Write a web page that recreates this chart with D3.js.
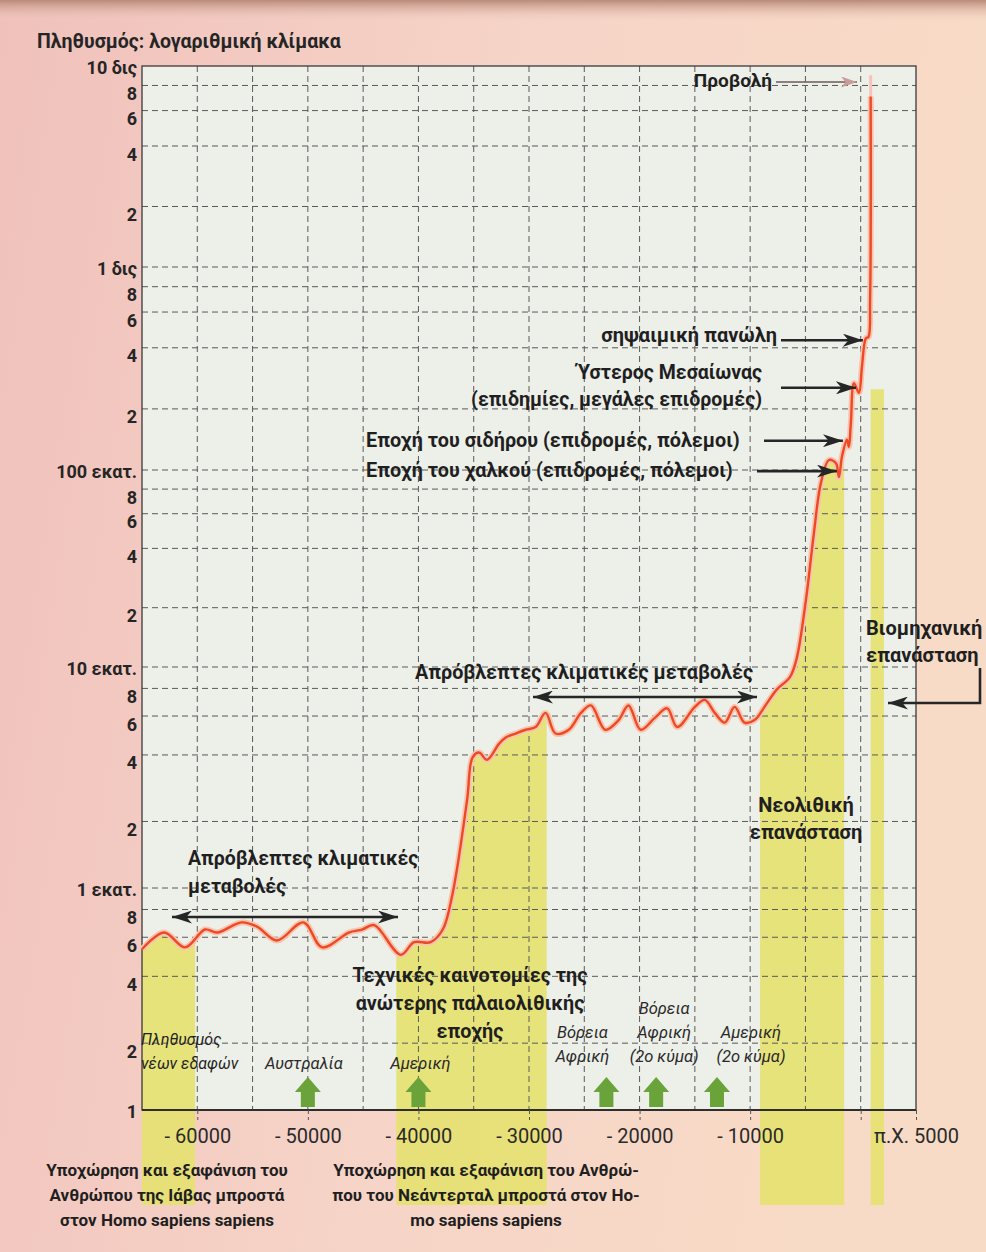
<!DOCTYPE html>
<html>
<head>
<meta charset="utf-8">
<script src="https://cdn.jsdelivr.net/npm/d3@7"></script>
<style>
  body { margin: 0; background: #f4cfc4; }
  svg { display: block; font-family: Roboto, "Noto Sans", sans-serif; }
</style>
</head>
<body>
<div class="chart"></div>
<script>
// population curve (years, millions of people)
var years = [-65000, -63000, -61100, -59300, -58200, -56000, -54600, -52800, -50400, -48700,
  -46300, -45100, -44000, -41600, -40400, -38900, -37800, -36900, -35600, -35100,
  -34500, -33800, -32700, -32100, -31200, -30300, -29400, -28500, -27600, -26400,
  -25300, -24400, -23100, -21900, -21000, -19900, -18600, -17500, -16600, -15000,
  -14100, -13200, -12300, -11400, -10500, -9600, -8700, -7600, -6400, -5800,
  -4950, -4230, -3600, -2870, -2240, -1970, -1700, -1250, -1070, -890,
  -610, -160, 110, 470, 700, 850, 900];
var population = [0.53, 0.63, 0.54, 0.65, 0.63, 0.70, 0.67, 0.58, 0.70, 0.54,
  0.63, 0.65, 0.68, 0.50, 0.57, 0.57, 0.65, 0.95, 2.5, 3.9,
  4.1, 3.8, 4.5, 4.8, 5.0, 5.2, 5.35, 6.2, 5.0, 5.2,
  6.2, 6.7, 5.2, 5.75, 6.7, 5.2, 5.9, 6.5, 5.35, 6.6,
  7.1, 6.2, 5.6, 6.6, 5.6, 5.75, 6.6, 7.9, 9.0, 11,
  22, 48, 86, 112, 108, 92, 116, 141, 130, 171,
  268, 240, 322, 446, 452, 700, 7050];
var projectionYears = [900, 900];
var projectionValues = [7050, 9000];

// yellow periods: [from, to]
var bandRanges = [[-65000, -60200], [-42000, -28400], [-9100, -1500]];
var industrialBand = [900, 2100];
var industrialBandTop = 250;

// migrations (green arrows)
var migrationYears = [-50000, -40000, -23000, -18500, -13000];
var migrationLabels = [["Αυστραλία"], ["Αμερική"], ["Βόρεια", "Αφρική"],
  ["Βόρεια", "Αφρική", "(2ο κύμα)"], ["Αμερική", "(2ο κύμα)"]];

// axes
var xTicks = [-60000, -50000, -40000, -30000, -20000, -10000, 0, 5000];
var xTickLabels = ["- 60000", "- 50000", "- 40000", "- 30000", "- 20000", "- 10000", "", "π.Χ. 5000"];
var yDecades = [0.1, 1, 10, 100, 1000, 10000];
var yDecadeLabels = ["1", "1 εκατ.", "10 εκατ.", "100 εκατ.", "1 δις", "10 δις"];
var yMinor = [2, 4, 6, 8];

var svgWidth = 986;
var svgHeight = 1252;
var plot = { left: 142, right: 916, top: 66, bottom: 1110 };

var svg = d3.select(".chart").append("svg")
  .attr("width", svgWidth)
  .attr("height", svgHeight);

var defs = svg.append("defs");
var pageGrad = defs.append("linearGradient").attr("id", "page").attr("x1", 0).attr("x2", 1).attr("y1", 0).attr("y2", 0.2);
pageGrad.append("stop").attr("offset", 0).attr("stop-color", "#f0c1bb");
pageGrad.append("stop").attr("offset", 0.5).attr("stop-color", "#f6d3c7");
pageGrad.append("stop").attr("offset", 1).attr("stop-color", "#f8dbc6");
var topGrad = defs.append("linearGradient").attr("id", "shade").attr("x1", 0).attr("x2", 0).attr("y1", 0).attr("y2", 1);
topGrad.append("stop").attr("offset", 0).attr("stop-color", "#b98a78");
topGrad.append("stop").attr("offset", 1).attr("stop-color", "#f3cfc4").attr("stop-opacity", 0);

function marker(id, color, w, h) {
  defs.append("marker")
    .attr("id", id)
    .attr("markerUnits", "userSpaceOnUse")
    .attr("markerWidth", w).attr("markerHeight", h)
    .attr("refX", w).attr("refY", h / 2)
    .attr("orient", "auto-start-reverse")
    .append("path")
    .attr("d", `M0,0 L${w},${h / 2} L0,${h} L${w * 0.28},${h / 2} Z`)
    .attr("fill", color);
}
marker("head", "#262626", 20, 13);
marker("headSoft", "#c99c9a", 16, 11);

svg.append("rect").attr("width", svgWidth).attr("height", svgHeight).attr("fill", "url(#page)");
svg.append("rect").attr("width", svgWidth).attr("height", 22).attr("fill", "url(#shade)");

var x = d3.scaleLinear().domain([-65000, 5000]).range([plot.left, plot.right]);
var y = d3.scaleLog().domain(yDecades).range([1110, 888, 667, 470, 267, plot.top]);

var series = years.map(function(yr, i) { return { year: yr, pop: population[i] }; });
var projection = projectionYears.map(function(yr, i) { return { year: yr, pop: projectionValues[i] }; });

// plot background
svg.append("rect")
  .attr("x", plot.left).attr("y", plot.top)
  .attr("width", plot.right - plot.left).attr("height", plot.bottom - plot.top)
  .attr("fill", "#edefe9");

// yellow bands: filled under the curve
var bandBottom = 1205;
defs.append("clipPath").attr("id", "underCurve")
  .append("path")
  .attr("d", d3.area()
    .x(d => x(d.year))
    .y0(bandBottom)
    .y1(d => y(d.pop))
    .curve(d3.curveCatmullRom.alpha(0.5))(series));

var bandColor = "#e5e16f";
svg.append("g").attr("clip-path", "url(#underCurve)")
  .selectAll("rect")
  .data(bandRanges)
  .enter()
  .append("rect")
  .attr("x", d => x(d[0]))
  .attr("width", d => x(d[1]) - x(d[0]))
  .attr("y", plot.top)
  .attr("height", bandBottom - plot.top)
  .attr("fill", bandColor)
  .attr("opacity", 0.9);

svg.append("rect")
  .attr("x", x(industrialBand[0]))
  .attr("width", x(industrialBand[1]) - x(industrialBand[0]))
  .attr("y", y(industrialBandTop))
  .attr("height", bandBottom - y(industrialBandTop))
  .attr("fill", bandColor)
  .attr("opacity", 0.9);

// grid
var yTickValues = [];
yDecades.forEach(function(d, i) {
  yTickValues.push(d);
  if (i < yDecades.length - 1) yMinor.forEach(function(m) { yTickValues.push(d * m); });
});

var grid = svg.append("g")
  .attr("stroke", "#5a5a5a")
  .attr("stroke-width", 1)
  .attr("stroke-dasharray", "6,4");

grid.selectAll(".h")
  .data(yTickValues.filter(v => v > yDecades[0] && v < yDecades[yDecades.length - 1]))
  .enter().append("line")
  .attr("x1", plot.left).attr("x2", plot.right)
  .attr("y1", d => y(d)).attr("y2", d => y(d));

grid.selectAll(".v")
  .data(d3.range(-60000, 1, 5000))
  .enter().append("line")
  .attr("y1", plot.top).attr("y2", plot.bottom)
  .attr("x1", d => x(d)).attr("x2", d => x(d));

// frame
svg.append("rect")
  .attr("x", plot.left).attr("y", plot.top)
  .attr("width", plot.right - plot.left).attr("height", plot.bottom - plot.top)
  .attr("fill", "none").attr("stroke", "#3a3a3a").attr("stroke-width", 1.3);
svg.append("line")
  .attr("x1", plot.left).attr("x2", plot.right)
  .attr("y1", plot.bottom).attr("y2", plot.bottom)
  .attr("stroke", "#2e2e2e").attr("stroke-width", 2.2);

// axes
var yAxis = d3.axisLeft(y)
  .tickValues(yTickValues)
  .tickSize(0)
  .tickPadding(5)
  .tickFormat(function(v) {
    var k = yDecades.indexOf(v);
    if (k >= 0) return yDecadeLabels[k];
    return Math.round(v / Math.pow(10, Math.floor(Math.log10(v) + 1e-9)));
  });

var yG = svg.append("g")
  .attr("transform", `translate(${plot.left}, 0)`)
  .call(yAxis);
yG.select(".domain").remove();
yG.selectAll("text")
  .attr("font-family", "Roboto, sans-serif")
  .attr("font-size", 18)
  .attr("font-weight", 700)
  .attr("fill", "#252525")
  .attr("dy", d => yDecades.indexOf(d) >= 0 ? "0.42em" : "0.78em");

var xAxis = d3.axisBottom(x)
  .tickValues(xTicks)
  .tickSize(10)
  .tickPadding(9)
  .tickFormat((d, i) => xTickLabels[i]);

var xG = svg.append("g")
  .attr("transform", `translate(0, ${plot.bottom})`)
  .call(xAxis);
xG.select(".domain").remove();
xG.selectAll("line").attr("stroke", "#555").attr("stroke-dasharray", "4,3");
xG.selectAll("text")
  .attr("font-family", "Roboto, sans-serif")
  .attr("font-size", 20)
  .attr("fill", "#2a2a2a");

// population curve
var line = d3.line()
  .x(d => x(d.year))
  .y(d => y(d.pop))
  .curve(d3.curveCatmullRom.alpha(0.5));

svg.append("path")
  .attr("d", line(projection))
  .attr("fill", "none")
  .attr("stroke", "#f6c3b6")
  .attr("stroke-width", 3);

svg.append("path")
  .attr("d", line(series))
  .attr("fill", "none")
  .attr("stroke", "#f8c4b0")
  .attr("stroke-width", 6)
  .attr("stroke-linejoin", "round");

svg.append("path")
  .attr("d", line(series))
  .attr("fill", "none")
  .attr("stroke", "#ee4925")
  .attr("stroke-width", 2.4)
  .attr("stroke-linejoin", "round");

// green migration arrows
var arrowG = svg.append("g");
arrowG.selectAll("path")
  .data(migrationYears)
  .enter()
  .append("path")
  .attr("transform", d => `translate(${x(d)}, ${plot.bottom - 3})`)
  .attr("d", "M-7,0 L-7,-15 L-13,-15 L0,-30 L13,-15 L7,-15 L7,0 Z")
  .attr("fill", "#6aa33a");

var labelShift = [-4, 2, -24, 8, 34];
var labelLast = [1064, 1064, 1057, 1057, 1057];
migrationLabels.forEach(function(lines, i) {
  lines.forEach(function(t, j) {
    svg.append("text")
      .attr("x", x(migrationYears[i]) + labelShift[i])
      .attr("y", labelLast[i] - (lines.length - 1 - j) * 24 + 5)
      .attr("text-anchor", "middle")
      .attr("font-size", 16.5)
      .attr("font-style", "italic")
      .attr("fill", "#2a2a2a")
      .text(t);
  });
});

function textLines(lines, xPos, yPos, anchor, size, weight, gap) {
  lines.forEach(function(t, j) {
    svg.append("text")
      .attr("x", xPos)
      .attr("y", yPos + j * gap)
      .attr("text-anchor", anchor)
      .attr("font-size", size)
      .attr("font-weight", weight)
      .attr("fill", "#1f1f1f")
      .text(t);
  });
}

textLines(["Πληθυσμός", "νέων εδαφών"], 141, 1045, "start", 16, 400, 24);
svg.selectAll("text").filter(function() { return this.textContent === "Πληθυσμός" || this.textContent === "νέων εδαφών"; })
  .attr("font-style", "italic");

// title
svg.append("text")
  .attr("x", 37).attr("y", 48)
  .attr("font-size", 19.5)
  .attr("font-weight", 700)
  .attr("fill", "#252525")
  .text("Πληθυσμός: λογαριθμική κλίμακα");

// annotations
var w = 700;
textLines(["Απρόβλεπτες κλιματικές", "μεταβολές"], 188, 865, "start", 19.5, w, 28);
textLines(["Απρόβλεπτες κλιματικές μεταβολές"], 584, 679, "middle", 19.8, w, 28);
textLines(["Τεχνικές καινοτομίες της", "ανώτερης παλαιολιθικής", "εποχής"], 470, 982, "middle", 19.8, w, 28);
textLines(["Νεολιθική", "επανάσταση"], 806, 812, "middle", 20, w, 27);
textLines(["Βιομηχανική", "επανάσταση"], 866, 635, "start", 20, w, 27);
textLines(["Εποχή του χαλκού (επιδρομές, πόλεμοι)"], 366, 477, "start", 19.8, w, 0);
textLines(["Εποχή του σιδήρου (επιδρομές, πόλεμοι)"], 366, 447, "start", 19.8, w, 0);
textLines(["Ύστερος Μεσαίωνας", "(επιδημίες, μεγάλες επιδρομές)"], 762, 379, "end", 19.5, w, 27);
textLines(["σηψαιμική πανώλη"], 777, 342, "end", 20, w, 0);
textLines(["Προβολή"], 772, 87, "end", 19, w, 0);

textLines(["Υποχώρηση και εξαφάνιση του", "Ανθρώπου της Ιάβας μπροστά", "στον Homo sapiens sapiens"],
  167, 1176, "middle", 17, 700, 25);
textLines(["Υποχώρηση και εξαφάνιση του Ανθρώ-", "που του Νεάντερταλ μπροστά στον Ηο-", "mo sapiens sapiens"],
  486, 1176, "middle", 17, 700, 25);

// arrows
function arrow(pts, both, head, color, width) {
  svg.append("path")
    .attr("d", d3.line()(pts))
    .attr("fill", "none")
    .attr("stroke", color)
    .attr("stroke-width", width)
    .attr("marker-end", `url(#${head})`)
    .attr("marker-start", both ? `url(#${head})` : null);
}

function pointAt(yr) {
  var d = series.find(s => s.year === yr);
  return [x(d.year), y(d.pop)];
}

arrow([[172, 917], [398, 917]], true, "head", "#262626", 2.6);
arrow([[533, 697], [757, 697]], true, "head", "#262626", 2.6);

var plague = pointAt(470), medieval = pointAt(-160), iron = pointAt(-1250), bronze = pointAt(-1970);
arrow([[781, plague[1] + 2], [plague[0] - 3, plague[1] + 2]], false, "head", "#262626", 2.6);
arrow([[781, medieval[1] - 5], [medieval[0] - 3, medieval[1] - 5]], false, "head", "#262626", 2.6);
arrow([[764, iron[1] + 1], [iron[0] - 4, iron[1] + 1]], false, "head", "#262626", 2.6);
arrow([[757, bronze[1] - 6], [bronze[0] - 2, bronze[1] - 6]], false, "head", "#262626", 2.6);
arrow([[776, 82], [857, 82]], false, "headSoft", "#6b5a58", 1.6);
arrow([[980, 668], [980, 703], [888, 703]], false, "head", "#262626", 2.6);
</script>
</body>
</html>
